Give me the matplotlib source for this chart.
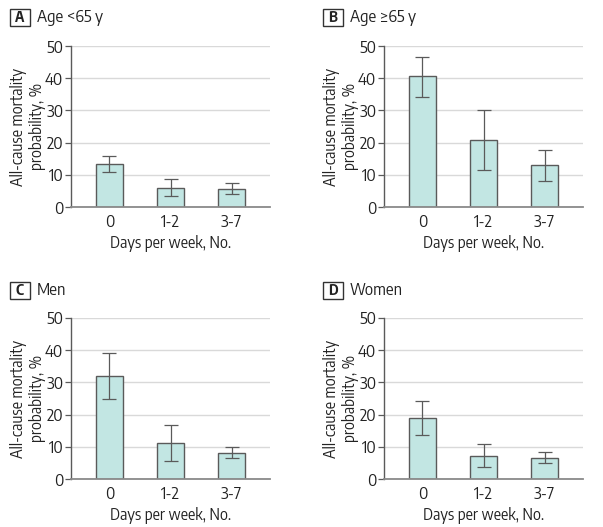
import matplotlib
matplotlib.use('Agg')
import matplotlib.pyplot as plt
import matplotlib.patches as mpatches
import numpy as np

plt.rcParams['font.family'] = ['Encode Sans Semi Condensed', 'DejaVu Sans']

# ── Data ─────────────────────────────────────────────────────
CATEGORIES = ["0", "1-2", "3-7"]
PANELS     = ["A", "B", "C", "D"]
TITLES     = ["Age <65 y", "Age \u226565 y", "Men", "Women"]

age_lt65     = [13.3, 6.0, 5.7]
age_lt65_lo  = [11.0, 3.3, 3.9]
age_lt65_hi  = [15.7, 8.6, 7.35]

age_ge65     = [40.6, 20.7, 12.9]
age_ge65_lo  = [34.3, 11.4, 8.0]
age_ge65_hi  = [46.7, 30.0, 17.8]

men          = [31.9, 11.2, 8.1]
men_lo       = [24.8, 5.7, 6.4]
men_hi       = [39.0, 16.8, 9.9]

women        = [18.8, 7.1, 6.5]
women_lo     = [13.6, 3.7, 5.0]
women_hi     = [24.1, 10.9, 8.3]

SERIES = [
    (age_lt65, age_lt65_lo, age_lt65_hi),
    (age_ge65, age_ge65_lo, age_ge65_hi),
    (men, men_lo, men_hi),
    (women, women_lo, women_hi),
]

# ── Style ────────────────────────────────────────────────────
BAR_COLOR  = "#c2e6e3"
EDGE_COLOR = "#5a5a5a"
GRID_COLOR = "#d9d9d9"
TEXT_COLOR = "#222222"
FS = 11

W, H = 603, 527
fig = plt.figure(figsize=(W / 100, H / 100), dpi=100)

# axes boxes in pixels: (left, top)
AX_POS = [(71, 46), (384, 46), (71, 318), (384, 318)]
AX_W, AX_H = 199, 161
# title box top-left in pixels
TITLE_TOP = [9, 9, 282, 282]
TITLE_LEFT = [10, 323, 10, 323]

for i, (ax_px, (vals, lo, hi)) in enumerate(zip(AX_POS, SERIES)):
    l, t = ax_px
    ax = fig.add_axes([l / W, (H - t - AX_H) / H, AX_W / W, AX_H / H])
    x = np.arange(len(CATEGORIES))
    vals = np.array(vals); lo = np.array(lo); hi = np.array(hi)
    ax.bar(x, vals, 0.43, color=BAR_COLOR, edgecolor=EDGE_COLOR,
           linewidth=1.0, zorder=2)
    ax.errorbar(x, vals, yerr=[vals - lo, hi - vals], fmt='none',
                ecolor=EDGE_COLOR, elinewidth=0.9, capsize=5, capthick=0.9,
                zorder=3)

    ax.set_xlim(-0.63, 2.63)
    ax.set_ylim(0, 50)
    ax.set_yticks([0, 10, 20, 30, 40, 50])
    ax.set_xticks(x)
    ax.set_xticklabels(CATEGORIES)
    ax.grid(axis='y', color=GRID_COLOR, linewidth=1.0, zorder=0)
    ax.set_axisbelow(True)
    for s in ['top', 'right']:
        ax.spines[s].set_visible(False)
    ax.spines['left'].set_color(EDGE_COLOR)
    ax.spines['left'].set_linewidth(1.0)
    ax.spines['bottom'].set_color("#8a8a8a")
    ax.spines['bottom'].set_linewidth(1.3)
    ax.tick_params(axis='y', length=4.3, width=0.9, color=EDGE_COLOR,
                   labelsize=FS + 0.5, labelcolor=TEXT_COLOR, pad=1.2)
    ax.tick_params(axis='x', length=0, labelsize=FS + 0.5, labelcolor=TEXT_COLOR, pad=5)
    ax.set_ylabel("All-cause mortality\nprobability, %", fontsize=FS,
                  color=TEXT_COLOR, linespacing=1.2, va='center')
    ax.yaxis.set_label_coords(-0.216, 0.5)
    ax.set_xlabel("Days per week, No.", fontsize=FS, color=TEXT_COLOR, labelpad=3)

    # panel letter box + title
    bl, bt = TITLE_LEFT[i], TITLE_TOP[i]
    bw, bh = 20, 17
    rect = mpatches.Rectangle((bl / W, (H - bt - bh) / H), bw / W, bh / H,
                              transform=fig.transFigure, fill=False,
                              edgecolor="#333333", linewidth=1.0)
    fig.patches.append(rect)
    fig.text((bl + bw / 2) / W, (H - bt - bh / 2) / H, PANELS[i],
             ha='center', va='center', fontsize=FS - 1, fontweight='bold',
             color=TEXT_COLOR)
    fig.text((bl + bw + 7) / W, (H - bt - bh / 2) / H, TITLES[i],
             ha='left', va='center', fontsize=FS + 0.5, color=TEXT_COLOR)

fig.savefig("out.png", dpi=100)
